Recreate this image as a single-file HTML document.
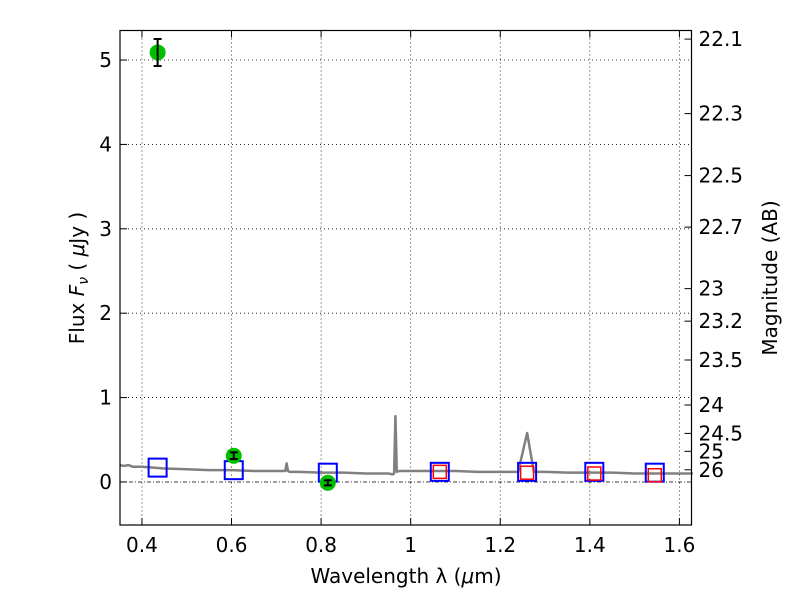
<!DOCTYPE html>
<html><head><meta charset="utf-8"><style>
body{margin:0;background:#fff;}
text{font-family:"DejaVu Sans","Liberation Sans",sans-serif;}
</style></head><body>
<svg id="chart" width="800" height="600" xmlns="http://www.w3.org/2000/svg">
<rect width="800" height="600" fill="#fff"/>
<g id="grid"></g>
<g id="series"></g>
<rect x="120" y="30.5" width="571.5" height="494.5" fill="none" stroke="#000" stroke-width="1.2"/>
<g id="axes"></g>
<text x="406" y="583" font-size="20" text-anchor="middle">Wavelength  λ (<tspan font-style="italic">μ</tspan>m)</text>
<text transform="translate(84,278) rotate(-90)" font-size="20" text-anchor="middle">Flux  <tspan font-style="italic">F</tspan><tspan font-style="italic" font-size="14" dy="4">ν</tspan><tspan dy="-4">  ( </tspan><tspan font-style="italic">μ</tspan>Jy )</text>
<text transform="translate(777,278) rotate(-90)" font-size="20" text-anchor="middle">Magnitude (AB)</text>
</svg>
<script>
const xTicks=[0.4,0.6,0.8,1.0,1.2,1.4,1.6];
const xTickLabels=["0.4","0.6","0.8","1","1.2","1.4","1.6"];
const yTicks=[0,1,2,3,4,5];
const magTicks=[22.1,22.3,22.5,22.7,23,23.2,23.5,24,24.5,25,26];
const magLabels=["22.1","22.3","22.5","22.7","23","23.2","23.5","24","24.5","25","26"];
const specWave=[0.35,0.36,0.37,0.38,0.40,0.45,0.50,0.55,0.60,0.65,0.70,0.72,0.723,0.726,0.73,0.75,0.80,0.85,0.90,0.95,0.96,0.963,0.966,0.969,0.975,1.0,1.05,1.10,1.15,1.20,1.24,1.26,1.275,1.30,1.35,1.40,1.45,1.50,1.55,1.60,1.63];
const specFlux=[0.20,0.19,0.20,0.18,0.18,0.16,0.15,0.14,0.14,0.13,0.13,0.13,0.22,0.13,0.12,0.12,0.11,0.11,0.10,0.10,0.09,0.10,0.78,0.12,0.13,0.13,0.13,0.13,0.12,0.12,0.12,0.58,0.12,0.12,0.11,0.11,0.11,0.10,0.10,0.10,0.10];
const blueWave=[0.435,0.605,0.815,1.065,1.26,1.41,1.545];
const blueFlux=[0.17,0.14,0.11,0.12,0.12,0.12,0.11];
const redWave=[1.065,1.26,1.41,1.545];
const redFlux=[0.12,0.11,0.10,0.08];
const greenWave=[0.435,0.605,0.815];
const greenFlux=[5.09,0.31,-0.01];
const greenErr=[0.16,0.04,0.03];

const X0=120,X1=691.5,Y0=30.5,Y1=525;
const xmin=0.351,xmax=1.627,ymin=-0.51,ymax=5.35;
const sx=v=>X0+(v-xmin)/(xmax-xmin)*(X1-X0);
const sy=v=>Y1-(v-ymin)/(ymax-ymin)*(Y1-Y0);
const NS="http://www.w3.org/2000/svg";
function mk(tag,attrs,parent){const e=document.createElementNS(NS,tag);for(const k in attrs)e.setAttribute(k,attrs[k]);parent.appendChild(e);return e;}
const grid=document.getElementById('grid'),axes=document.getElementById('axes'),ser=document.getElementById('series');

xTicks.forEach((t,i)=>{
  const x=sx(t);
  const g=mk('line',{x1:x,x2:x,y1:Y0,y2:Y1,stroke:'#000','stroke-width':0.8,'stroke-dasharray':'1,3'},grid);
  
  
  const tk=mk('line',{x1:x,x2:x,y1:Y1,y2:Y1-7,stroke:'#000'},axes);
  
  
  const tk2=mk('line',{x1:x,x2:x,y1:Y0,y2:Y0+7,stroke:'#000'},axes);
  
  
  const tx=mk('text',{x:x,y:Y1+27,'font-size':20,'text-anchor':'middle'},axes);
  tx.textContent=xTickLabels[i];
  
  
});
yTicks.forEach(t=>{
  const y=sy(t);
  const g=mk('line',{x1:X0,x2:X1,y1:y,y2:y,stroke:'#000','stroke-width':0.8,'stroke-dasharray':t===0?'4,2,1,2':'1,3'},grid);
  
  
  const tk=mk('line',{x1:X0,x2:X0+7,y1:y,y2:y,stroke:'#000'},axes);
  
  
  const tx=mk('text',{x:X0-8,y:y+7,'font-size':20,'text-anchor':'end'},axes);
  tx.textContent=String(t);
  
  
});
magTicks.forEach((m,i)=>{
  const f=Math.pow(10,(23.9-m)/2.5);
  const y=sy(f);
  const tk=mk('line',{x1:X1,x2:X1-7,y1:y,y2:y,stroke:'#000'},axes);
  
  
  const tx=mk('text',{x:X1+7,y:y+7,'font-size':20},axes);
  tx.textContent=magLabels[i];
  
  
});
const pts=specWave.map((w,i)=>sx(w)+','+sy(specFlux[i])).join(' ');
const sp=mk('polyline',{points:pts,fill:'none',stroke:'#808080','stroke-width':2.5,'stroke-linejoin':'round'},ser);


blueWave.forEach((w,i)=>{
  const r=mk('rect',{x:sx(w)-9,y:sy(blueFlux[i])-9,width:18,height:18,fill:'none',stroke:'#0000ff','stroke-width':2},ser);
  
  
});
redWave.forEach((w,i)=>{
  const r=mk('rect',{x:sx(w)-6.5,y:sy(redFlux[i])-6.5,width:13,height:13,fill:'none',stroke:'#ff0000','stroke-width':1.5},ser);
  
  
});
greenWave.forEach((w,i)=>{
  const x=sx(w),y=sy(greenFlux[i]);
  const c=mk('circle',{cx:x,cy:y,r:8,fill:'#00c000'},ser);
  
  
  const yt=sy(greenFlux[i]+greenErr[i]),yb=sy(greenFlux[i]-greenErr[i]);
  const e=mk('path',{d:`M${x},${yt}V${yb}M${x-4},${yt}H${x+4}M${x-4},${yb}H${x+4}`,stroke:'#000','stroke-width':2,fill:'none'},ser);
  
  
});
</script>
</body></html>
